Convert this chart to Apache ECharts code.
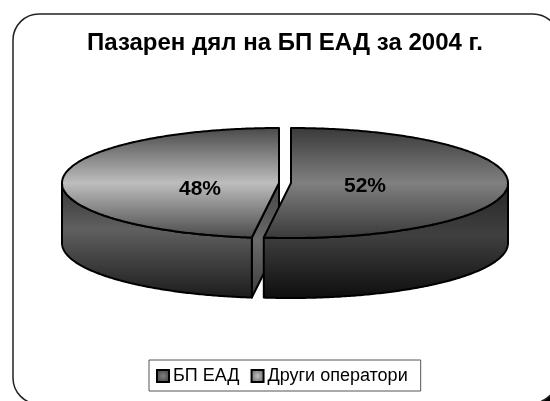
<!DOCTYPE html>
<html><head><meta charset="utf-8">
<style>html,body{margin:0;padding:0;background:#fff}#c{width:550px;height:401px}</style>
<script src="https://cdn.jsdelivr.net/npm/echarts@6/dist/echarts.min.js"></script>
</head><body><div id="c"></div>
<script>
const titleText = 'Пазарен дял на БП ЕАД за 2004 г.';
const categories = ['БП ЕАД', 'Други оператори'];
const values = [52, 48];

const FONT = '"Liberation Sans", Arial, sans-serif';
const CX = 285, CY = 183, RX = 217, RY = 55, DEPTH = 60, EXPLODE = 6;
const total = values.reduce((a, b) => a + b, 0);
const grad = (y1, y2, stops) => ({
  type: 'linear', x: 0, y: y1, x2: 0, y2: y2, global: true,
  colorStops: stops.map(s => ({ offset: s[0], color: s[1] }))
});
const styles = [
  {
    top: grad(128, 238, [[0, '#3a3a3a'], [0.5, '#808080'], [1, '#3a3a3a']]),
    wall: grad(183, 298, [[0, '#262626'], [0.45, '#404040'], [1, '#0e0e0e']]),
    legend: { type: 'radial', x: .5, y: .5, r: .7, colorStops: [{ offset: 0, color: '#808080' }, { offset: 1, color: '#333' }] },
    label: [365, 186]
  },
  {
    top: grad(128, 238, [[0, '#4a4a4a'], [0.5, '#bdbdbd'], [1, '#4a4a4a']]),
    wall: grad(183, 298, [[0, '#333333'], [0.4, '#606060'], [1, '#1c1c1c']]),
    legend: { type: 'radial', x: .5, y: .5, r: .7, colorStops: [{ offset: 0, color: '#bdbdbd' }, { offset: 1, color: '#555' }] },
    label: [200, 189]
  }
];
function sliceRange(i) {
  let s = 0;
  for (let k = 0; k < i; k++) s += values[k];
  return [s / total * 2 * Math.PI, (s + values[i]) / total * 2 * Math.PI];
}
function renderSlice(i) {
  return function () {
    const [a0, a1] = sliceRange(i), mid = (a0 + a1) / 2;
    const cx = CX + EXPLODE * Math.sin(mid), cy = CY;
    const pt = (a, dy) => [cx + RX * Math.sin(a), cy - RY * Math.cos(a) + (dy || 0)];
    const arc = (from, to, dy) => {
      const n = Math.max(2, Math.ceil(Math.abs(to - from) / 0.01)), p = [];
      for (let k = 0; k <= n; k++) p.push(pt(from + (to - from) * k / n, dy));
      return p;
    };
    const line = { stroke: '#000', lineWidth: 2, lineJoin: 'round' };
    const children = [];
    if (a0 > Math.PI / 2 && a0 < Math.PI * 1.5) {
      const e = pt(a0);
      children.push({
        type: 'polygon',
        shape: { points: [[cx, cy], e, [e[0], e[1] + DEPTH], [cx, cy + DEPTH]] },
        style: Object.assign({ fill: grad(183, 298, [[0, '#444444'], [0.5, '#6a6a6a'], [1, '#3c3c3c']]) }, line)
      });
    }
    const w0 = Math.max(a0, Math.PI / 2), w1 = Math.min(a1, Math.PI * 1.5);
    if (w1 > w0) {
      children.push({
        type: 'polygon',
        shape: { points: arc(w0, w1, 0).concat(arc(w1, w0, DEPTH)) },
        style: Object.assign({ fill: styles[i].wall }, line)
      });
    }
    children.push({
      type: 'polygon',
      shape: { points: [[cx, cy]].concat(arc(a0, a1, 0)) },
      style: Object.assign({ fill: styles[i].top }, line)
    });
    children.push({
      type: 'text',
      style: {
        text: values[i] + '%', x: styles[i].label[0], y: styles[i].label[1],
        align: 'center', verticalAlign: 'middle',
        font: 'bold 21px ' + FONT, fill: '#000'
      }
    });
    return { type: 'group', children };
  };
}

const chart = echarts.init(document.getElementById('c'), null, { renderer: 'canvas' });
chart.setOption({
  animation: false,
  backgroundColor: '#fff',
  title: {
    text: titleText, left: 87, top: 31,
    textStyle: { fontFamily: FONT, fontWeight: 'bold', fontSize: 24, color: '#000' }, padding: 0
  },
  legend: {
    data: categories, left: 149, top: 360, orient: 'horizontal',
    itemWidth: 12, itemHeight: 12, itemGap: 11, icon: 'rect',
    padding: [7, 13, 6, 7], borderColor: '#555', borderWidth: 1, backgroundColor: '#fff',
    textStyle: { fontFamily: FONT, fontSize: 18, color: '#000', padding: [0, 0, 0, -1] },
    selectedMode: false
  },
  graphic: [
    {
      type: 'rect', z: -2, silent: true,
      shape: { x: 530, y: 388, width: 20, height: 13 },
      style: { fill: '#000' }
    },
    {
      type: 'rect', z: -1, silent: true,
      shape: { x: 13, y: 14, width: 546, height: 390, r: [26, 26, 30, 26] },
      style: { fill: '#fff', stroke: '#222', lineWidth: 1.5 }
    }
  ],
  series: categories.map((name, i) => ({
    type: 'custom', name, coordinateSystem: 'none', silent: true,
    z: 2 + (values.length - i),
    data: [values[i]],
    renderItem: renderSlice(i),
    itemStyle: { color: styles[i].legend, borderColor: '#000', borderWidth: 1.5 }
  }))
});
</script></body></html>
